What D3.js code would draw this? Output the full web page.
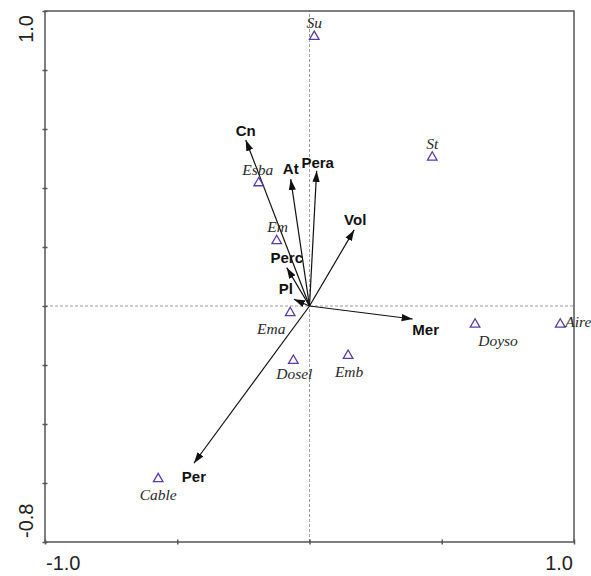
<!DOCTYPE html>
<html>
<head>
<meta charset="utf-8">
<script src="https://cdn.jsdelivr.net/npm/d3@7"></script>
<style>
  body { margin: 0; background: #fff; }
  svg { display: block; }
</style>
</head>
<body>
<div id="chart"></div>
<script>
// Site scores (triangles)
const sites = ['Su', 'St', 'Esba', 'Em', 'Ema', 'Dosel', 'Emb', 'Doyso', 'Aire', 'Cable'];
const siteX = [0.018, 0.464, -0.192, -0.124, -0.073, -0.061, 0.146, 0.626, 0.948, -0.572];
const siteY = [0.913, 0.504, 0.417, 0.221, -0.023, -0.185, -0.168, -0.062, -0.062, -0.586];

// Variable vectors (arrows)
const vars = ['Cn', 'At', 'Pera', 'Vol', 'Perc', 'Pl', 'Mer', 'Per'];
const varX = [-0.241, -0.071, 0.027, 0.169, -0.086, -0.059, 0.390, -0.437];
const varY = [0.563, 0.430, 0.458, 0.258, 0.130, 0.023, -0.044, -0.533];

// Axes
const xTicks = [-1, -0.5, 0, 0.5, 1];
const yTicks = [-0.8, -0.6, -0.4, -0.2, 0, 0.2, 0.4, 0.6, 0.8, 1.0];
const xTickLabels = ['-1.0', '1.0'];
const yTickLabels = ['-0.8', '1.0'];

// label nudges in px, so text sits where the original put it
const siteLabelOffset = {
  Su: [0, -9], St: [0, -8], Esba: [-1, -8], Em: [1, -9], Ema: [-19, 21],
  Dosel: [1, 18], Emb: [1, 21], Doyso: [23, 22], Aire: [5, 3], Cable: [0, 21]
};
const varLabelOffset = {
  Cn: [0, -4], At: [0, -5], Pera: [1, -3], Vol: [1, -5],
  Perc: [0, -5], Pl: [-8, -5], Mer: [13, 16], Per: [0, 19]
};

const width = 591, height = 576;
const margin = { top: 11, right: 17, bottom: 34, left: 45 };

const x = d3.scaleLinear().domain([-1, 1]).range([margin.left, width - margin.right]);
const y = d3.scaleLinear().domain([-0.8, 1]).range([height - margin.bottom, margin.top]);

const svg = d3.select('#chart')
  .append('svg')
  .attr('width', width)
  .attr('height', height);

// arrow head
svg.append('defs')
  .append('marker')
  .attr('id', 'head')
  .attr('viewBox', '0 -4 11 8')
  .attr('refX', 11)
  .attr('refY', 0)
  .attr('markerUnits', 'userSpaceOnUse')
  .attr('markerWidth', 11)
  .attr('markerHeight', 8)
  .attr('orient', 'auto')
  .append('path')
  .attr('d', 'M0,-3.6L11,0L0,3.6Z')
  .attr('fill', '#111');

// dashed zero lines
svg.append('line')
  .attr('x1', x(-1)).attr('x2', x(1))
  .attr('y1', y(0)).attr('y2', y(0))
  .attr('stroke', '#9a9a9a').attr('stroke-width', 1)
  .attr('stroke-dasharray', '3,2');
svg.append('line')
  .attr('x1', x(0)).attr('x2', x(0))
  .attr('y1', y(-0.8)).attr('y2', y(1))
  .attr('stroke', '#9a9a9a').attr('stroke-width', 1)
  .attr('stroke-dasharray', '3,2');

// frame
svg.append('rect')
  .attr('x', x(-1)).attr('y', y(1))
  .attr('width', x(1) - x(-1))
  .attr('height', y(-0.8) - y(1))
  .attr('fill', 'none')
  .attr('stroke', '#555')
  .attr('stroke-width', 1.5);

// ticks crossing the frame
const xAxis = svg.append('g')
  .attr('transform', `translate(0,${y(-0.8)})`)
  .call(d3.axisBottom(x).tickValues(xTicks).tickSize(2.5).tickFormat(''));
const yAxis = svg.append('g')
  .attr('transform', `translate(${x(-1)},0)`)
  .call(d3.axisLeft(y).tickValues(yTicks).tickSize(2.5).tickFormat(''));
[xAxis, yAxis].forEach((g) => {
  g.select('.domain').remove();
  g.selectAll('.tick line').attr('stroke', '#555').attr('stroke-width', 1.5);
});
xAxis.selectAll('.tick line').attr('y1', -2.5);
yAxis.selectAll('.tick line').attr('x1', 2.5);

// tick labels
svg.selectAll('.xlab')
  .data(xTickLabels)
  .join('text')
  .attr('class', 'xlab')
  .attr('x', (d) => x(+d) + (+d < 0 ? 1 : -1))
  .attr('y', 570)
  .attr('text-anchor', (d) => (+d < 0 ? 'start' : 'end'))
  .attr('font-family', 'Liberation Sans, Arial, sans-serif')
  .attr('font-size', 20)
  .attr('fill', '#222')
  .text((d) => d);

svg.selectAll('.ylab')
  .data(yTickLabels)
  .join('text')
  .attr('class', 'ylab')
  .attr('transform', (d) => {
    const py = +d < 0 ? y(+d) - 4 : y(+d) + 4;
    return `translate(33,${py}) rotate(-90)`;
  })
  .attr('text-anchor', (d) => (+d < 0 ? 'start' : 'end'))
  .attr('font-family', 'Liberation Sans, Arial, sans-serif')
  .attr('font-size', 20)
  .attr('fill', '#222')
  .text((d) => d);

// arrows
const arrows = vars.map((name, i) => ({ name, x: varX[i], y: varY[i] }));
svg.selectAll('.arrow')
  .data(arrows)
  .join('line')
  .attr('class', 'arrow')
  .attr('x1', x(0)).attr('y1', y(0))
  .attr('x2', (d) => x(d.x)).attr('y2', (d) => y(d.y))
  .attr('stroke', '#111')
  .attr('stroke-width', 1.2)
  .attr('marker-end', 'url(#head)');

svg.selectAll('.varlab')
  .data(arrows)
  .join('text')
  .attr('class', 'varlab')
  .attr('x', (d) => x(d.x) + varLabelOffset[d.name][0])
  .attr('y', (d) => y(d.y) + varLabelOffset[d.name][1])
  .attr('text-anchor', 'middle')
  .attr('font-family', 'Liberation Sans, Arial, sans-serif')
  .attr('font-weight', 'bold')
  .attr('font-size', 15)
  .attr('fill', '#111')
  .text((d) => d.name);

// sites
const points = sites.map((name, i) => ({ name, x: siteX[i], y: siteY[i] }));
svg.selectAll('.site')
  .data(points)
  .join('path')
  .attr('class', 'site')
  .attr('transform', (d) => `translate(${x(d.x)},${y(d.y)})`)
  .attr('d', d3.symbol(d3.symbolTriangle, 40))
  .attr('fill', 'none')
  .attr('stroke', '#5a3ca8')
  .attr('stroke-width', 1.3);

svg.selectAll('.sitelab')
  .data(points)
  .join('text')
  .attr('class', 'sitelab')
  .attr('x', (d) => x(d.x) + siteLabelOffset[d.name][0])
  .attr('y', (d) => y(d.y) + siteLabelOffset[d.name][1])
  .attr('text-anchor', (d) => (d.name === 'Aire' ? 'start' : 'middle'))
  .attr('font-family', 'Liberation Serif, Times New Roman, serif')
  .attr('font-style', 'italic')
  .attr('font-size', 15.5)
  .attr('fill', '#2a2a2a')
  .text((d) => d.name);
</script>
</body>
</html>
